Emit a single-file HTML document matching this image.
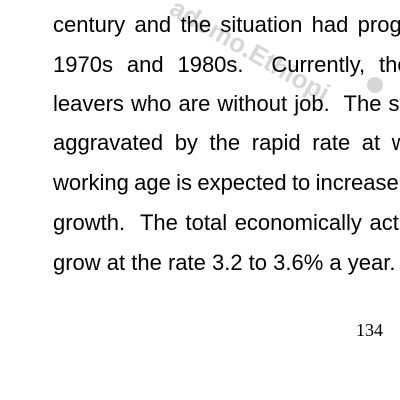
<!DOCTYPE html>
<html><head><meta charset="utf-8"><style>
html,body{margin:0;padding:0;background:#fff;width:400px;height:400px;overflow:hidden;position:relative}
.clip{position:absolute;left:0;top:0;width:400px;height:400px;overflow:hidden}
.wm{position:absolute;left:250px;top:50px;font-family:"Liberation Sans",sans-serif;font-weight:bold;font-size:26px;line-height:26px;color:#d6d6d6;transform:translate(-50%,-50%) rotate(30deg);white-space:nowrap}
.dot{position:absolute;left:367px;top:77px;width:16px;height:16px;border-radius:50%;background:#d6d6d6}
.ln{position:absolute;left:53px;width:347px;overflow:hidden;font-family:"Liberation Sans",sans-serif;font-size:22px;color:#000;white-space:nowrap;line-height:26px}
.pg{position:absolute;left:356px;top:320px;font-family:"Liberation Serif",serif;font-size:18px;color:#000}
</style></head><body>
<div class="clip">
<div class="wm">ademo.Ethiopi</div>
<div class="dot"></div>
<div class="ln" style="top:12px;word-spacing:3.2px">century and the situation had progressively</div>
<div class="ln" style="top:52px;word-spacing:7.8px">1970s and 1980s.&nbsp; Currently, there</div>
<div class="ln" style="top:91px;word-spacing:1px">leavers who are without job.&nbsp; The situation</div>
<div class="ln" style="top:130px;word-spacing:5.5px">aggravated by the rapid rate at which</div>
<div class="ln" style="top:170px;word-spacing:-0.8px">working age is expected to increase</div>
<div class="ln" style="top:210px;word-spacing:1.5px">growth.&nbsp; The total economically active</div>
<div class="ln" style="top:250px">grow at the rate 3.2 to 3.6% a year.</div>
<div class="pg">134</div>
</div>
</body></html>
